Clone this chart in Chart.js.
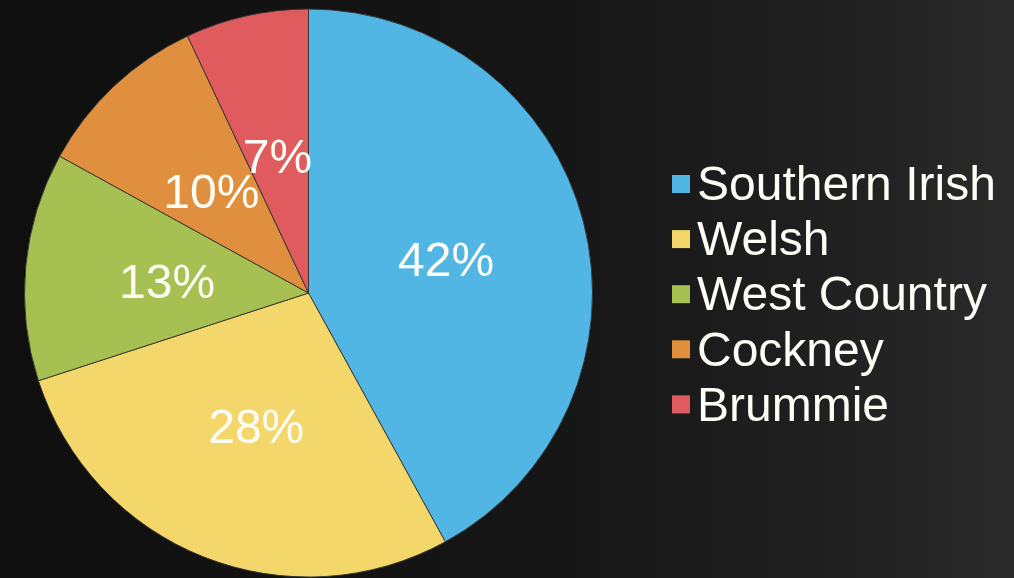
<!DOCTYPE html>
<html>
<head>
<meta charset="utf-8">
<script src="https://cdn.jsdelivr.net/npm/chart.js@4"></script>
<style>
  html, body { margin: 0; padding: 0; }
  body {
    width: 1014px; height: 578px; overflow: hidden;
    background: linear-gradient(90deg, #0f0f0f 0%, #161616 55%, #1f1f1f 80%, #2a2a2a 100%);
  }
  #wrap { position: relative; width: 1014px; height: 578px; }
</style>
</head>
<body>
<div id="wrap"><canvas id="chart_accents"></canvas></div>
<script>
var labels = ['Southern Irish', 'Welsh', 'West Country', 'Cockney', 'Brummie'];
var shares = [42, 28, 13, 10, 7];
var colours = ['#52b6e4', '#f4d76b', '#a7c052', '#df8f3d', '#e05b5e'];

var fontFamily = '"Liberation Sans", Arial, sans-serif';

var chart_accents = new Chart(document.getElementById('chart_accents'), {
    type: 'pie',
    data: {
        labels: labels,
        datasets: [
            {
                data: shares,
                backgroundColor: colours,
                borderColor: 'rgba(50,50,50,0.9)',
                borderWidth: 1
            }
        ]
    },
    options: {
        animation: false,
        responsive: true,
        maintainAspectRatio: false,
        layout: {
            padding: { left: 24, right: 421, top: 8, bottom: 0 }
        },
        plugins: {
            legend: { display: false },
            tooltip: { enabled: false }
        }
    },
    plugins: [{
        id: 'sliceLabels',
        afterDatasetsDraw: (chart) => {
            const ctx = chart.ctx;
            const meta = chart.getDatasetMeta(0);
            ctx.save();
            ctx.font = '48px ' + fontFamily;
            ctx.fillStyle = '#fdfdf6';
            ctx.textAlign = 'center';
            ctx.textBaseline = 'middle';
            meta.data.forEach((arc, i) => {
                const mid = (arc.startAngle + arc.endAngle) / 2;
                const r = arc.outerRadius * 0.5;
                // nudge down so the digits sit centred like the original
                ctx.fillText(shares[i] + '%', arc.x + Math.cos(mid) * r, arc.y + Math.sin(mid) * r + 5);
            });
            ctx.restore();
        }
    }, {
        id: 'sideLegend',
        afterDraw: (chart) => {
            const ctx = chart.ctx;
            ctx.save();
            ctx.font = '48px ' + fontFamily;
            ctx.textBaseline = 'middle';
            ctx.textAlign = 'left';
            labels.forEach((name, i) => {
                const cy = 184 + i * 55.1;
                ctx.fillStyle = colours[i];
                ctx.fillRect(672, cy - 9, 18, 18);
                ctx.fillStyle = '#fdfdf6';
                ctx.fillText(name, 697, cy + 3);
            });
            ctx.restore();
        }
    }]
});
</script>
</body>
</html>
